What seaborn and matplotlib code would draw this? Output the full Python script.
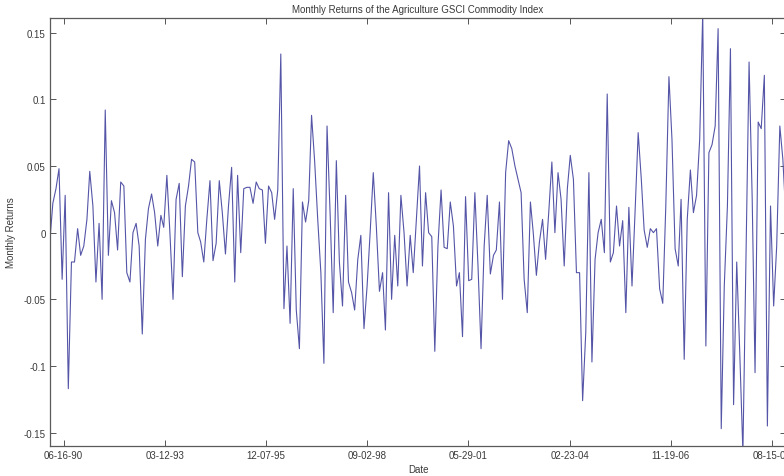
import matplotlib
matplotlib.use("Agg")
import matplotlib.pyplot as plt
import seaborn as sns
import pandas as pd

# ---- data (monthly returns) ----
start_month = "1990-02-01"
returns_1990_1994 = [
    -0.005, 0.022, 0.033, 0.048, -0.035, 0.028, -0.117, -0.022, -0.022, 0.003,
    -0.017, -0.010, 0.010, 0.046, 0.020, -0.037, 0.007, -0.050, 0.092, -0.017,
    0.024, 0.015, -0.013, 0.038, 0.035, -0.030, -0.037, 0.000, 0.007, -0.010,
    -0.076, -0.005, 0.018, 0.029, 0.015, -0.010, 0.013, 0.004, 0.043, 0.000,
    -0.050, 0.025, 0.037, -0.033, 0.020, 0.035, 0.055, 0.053, 0.000, -0.007,
    -0.022, 0.010, 0.039, -0.021, -0.008, 0.039, 0.015, -0.016, 0.020, 0.049,
]
returns_1995_1999 = [
    -0.037, 0.043, -0.015, 0.033, 0.034, 0.034, 0.022, 0.038, 0.033, 0.032,
    -0.008, 0.035, 0.030, 0.010, 0.032, 0.134, -0.057, -0.010, -0.068, 0.033,
    -0.058, -0.087, 0.023, 0.008, 0.024, 0.088, 0.053, 0.010, -0.030, -0.098,
    0.080, 0.013, -0.060, 0.054, -0.022, -0.055, 0.028, -0.037, -0.045, -0.058,
    -0.020, -0.002, -0.072, -0.040, 0.000, 0.045, 0.005, -0.044, -0.030, -0.073,
    0.030, -0.050, -0.002, -0.040, 0.028, 0.000, -0.040, -0.002, -0.030, 0.010,
]
returns_2000_2004 = [
    0.050, -0.025, 0.030, 0.000, -0.003, -0.089, -0.010, 0.032, -0.011, -0.012,
    0.023, 0.005, -0.040, -0.030, -0.078, 0.027, -0.036, -0.035, 0.030, -0.025,
    -0.087, -0.010, 0.028, -0.031, -0.017, -0.013, 0.023, -0.050, 0.045, 0.069,
    0.063, 0.050, 0.040, 0.030, -0.035, -0.060, 0.023, 0.000, -0.032, -0.007,
    0.010, -0.020, 0.015, 0.053, 0.000, 0.045, 0.025, -0.025, 0.033, 0.058,
    0.040, -0.030, -0.030, -0.126, -0.075, 0.045, -0.097, -0.020, 0.000, 0.010,
]
returns_2005_2009 = [
    -0.015, 0.104, -0.022, -0.015, 0.020, -0.010, 0.009, -0.060, 0.019, -0.040,
    0.015, 0.075, 0.040, 0.002, -0.011, 0.003, 0.000, 0.003, -0.042, -0.053,
    0.020, 0.117, 0.070, -0.012, -0.025, 0.025, -0.095, 0.010, 0.047, 0.015,
    0.028, 0.070, 0.165, -0.085, 0.060, 0.066, 0.080, 0.153, -0.147, -0.040,
    0.020, 0.138, -0.129, -0.022, -0.090, -0.165, -0.020, 0.128, 0.025, -0.105,
    0.083, 0.078, 0.118, -0.145, 0.020, -0.055, -0.010, 0.080, 0.055, 0.010,
]
xtick_dates = ["1990-06-16", "1993-03-12", "1995-12-07", "1998-09-02",
               "2001-05-29", "2004-02-23", "2006-11-19", "2009-08-15"]
xtick_labels = ["06-16-90", "03-12-93", "12-07-95", "09-02-98",
                "05-29-01", "02-23-04", "11-19-06", "08-15-09"]
ytick_values = [-0.15, -0.1, -0.05, 0, 0.05, 0.1, 0.15]
ytick_labels = ["-0.15", "-0.1", "-0.05", "0", "0.05", "0.1", "0.15"]

returns = returns_1990_1994 + returns_1995_1999 + returns_2000_2004 + returns_2005_2009
dates = pd.date_range(start_month, periods=len(returns), freq="MS")
df = pd.DataFrame({"Date": dates, "Monthly Returns": returns})

# ---- plotting ----
sns.set_style("ticks")
plt.rcParams["font.family"] = ["Liberation Sans", "DejaVu Sans"]

W, H = 784, 477
fig = plt.figure(figsize=(W / 100, H / 100), dpi=100)
ax = fig.add_axes([50 / W, 1 - 447 / H, 736 / W, 428 / H])

sns.lineplot(data=df, x="Date", y="Monthly Returns", ax=ax,
             color="#5555a8", linewidth=0.8)

ax.set_xlim(dates[0], dates[-1])
ax.set_ylim(-0.16, 0.161)
ax.set_xticks(pd.to_datetime(xtick_dates))
ax.set_xticklabels(xtick_labels)
ax.set_yticks(ytick_values)
ax.set_yticklabels(ytick_labels)

txt = "#3a3a3a"
ax.tick_params(direction="in", length=4, width=0.7, top=True, right=True,
               labelsize=7, colors="#555555", labelcolor=txt, pad=3)
for s in ax.spines.values():
    s.set_visible(True)
    s.set_color("#5a5a5a")
    s.set_linewidth(0.9)

ax.set_title("Monthly Returns of the Agriculture GSCI Commodity Index",
             fontsize=7, color=txt, pad=4)
ax.set_xlabel("Date", fontsize=7, color=txt, labelpad=3)
ax.set_ylabel("Monthly Returns", fontsize=7, color=txt, labelpad=6)

fig.savefig("out.png", dpi=100)
